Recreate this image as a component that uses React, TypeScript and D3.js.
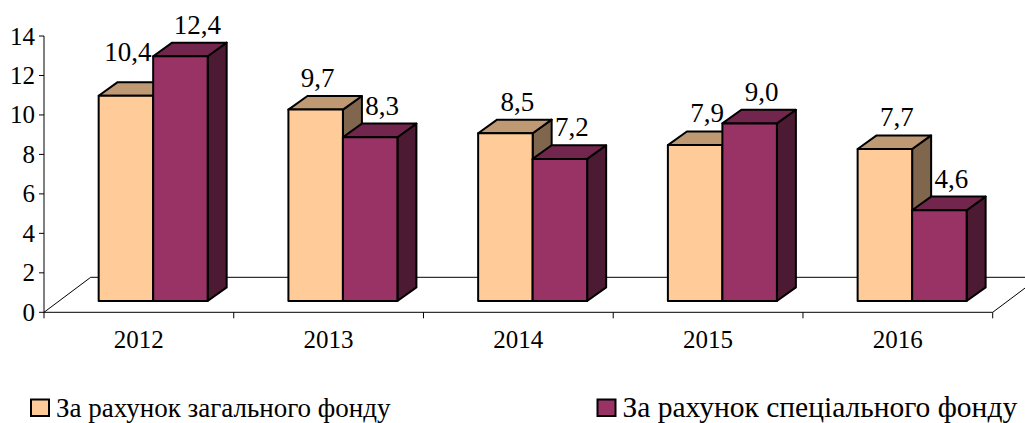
import React from 'react';
import * as d3 from 'd3';

const categories = ['2012', '2013', '2014', '2015', '2016'];
const generalFund = [10.4, 9.7, 8.5, 7.9, 7.7];
const specialFund = [12.4, 8.3, 7.2, 9.0, 4.6];
const seriesNames = ['За рахунок загального фонду', 'За рахунок спеціального фонду'];
const yTicks = [0, 2, 4, 6, 8, 10, 12, 14];

const W = 1025;
const H = 423;
const FONT = 'Liberation Serif';

// series styles: front, top, side
const colors = [
  { front: '#FFCC99', top: '#BF9973', side: '#80664D' },
  { front: '#993366', top: '#73264D', side: '#4D1A33' },
];

// layout
const plotLeft = 44;
const plotRight = 992.7;
const yBase = 312.3;
const yTopPx = 36;
const floorDx = 46.7;
const floorDy = -35;
const barOffX = 14.3;
const barOffY = -11.3;
const barDepthX = 19;
const barDepthY = -13.6;
const barW = 54.5;

// manual label nudges (series-category)
const labelNudge: Record<string, [number, number]> = {
  '0-0': [-10, -12],
  '0-1': [-10, 0],
  '1-0': [5, 0],
};

const legendLayout = [
  { x: 31, size: 27 },
  { x: 597.5, size: 29.5 },
];

const fmt = (v: number) => d3.format('.1f')(v).replace('.', ',');

export default function App() {
  const x = d3.scaleBand<string>().domain(categories).range([plotLeft, plotRight]).padding(0);
  const y = d3.scaleLinear().domain([0, 14]).range([yBase, yTopPx]);
  const series = [generalFund, specialFund];

  const floorPts = [
    [plotLeft, yBase],
    [plotRight, yBase],
    [plotRight + floorDx, yBase + floorDy],
    [plotLeft + floorDx, yBase + floorDy],
  ];

  const bars: React.ReactNode[] = [];
  const labels: React.ReactNode[] = [];
  categories.forEach((c, ci) => {
    const cx = (x(c) as number) + x.bandwidth() / 2 + barOffX;
    series.forEach((vals, si) => {
      const v = vals[ci];
      const x0 = cx - barW + si * barW;
      const x1 = x0 + barW;
      const yb = yBase + barOffY;
      const yt = y(v) + barOffY;
      const col = colors[si];
      const top = `M${x0},${yt}L${x1},${yt}L${x1 + barDepthX},${yt + barDepthY}L${x0 + barDepthX},${yt + barDepthY}Z`;
      const side = `M${x1},${yt}L${x1 + barDepthX},${yt + barDepthY}L${x1 + barDepthX},${yb + barDepthY}L${x1},${yb}Z`;
      bars.push(
        <g key={`b${ci}-${si}`} stroke="#000" strokeWidth={2} strokeLinejoin="round">
          <path d={side} fill={col.side} />
          <path d={top} fill={col.top} />
          <rect x={x0} y={yt} width={barW} height={yb - yt} fill={col.front} />
        </g>
      );
      const nudge = labelNudge[`${si}-${ci}`] || [0, 0];
      labels.push(
        <text
          key={`l${ci}-${si}`}
          x={(x0 + x1) / 2 + 12 + nudge[0]}
          y={yt + barDepthY - 9 + nudge[1]}
          textAnchor="middle"
          style={{ fontFamily: FONT, fontSize: 27 }}
          fill="#000"
        >
          {fmt(v)}
        </text>
      );
    });
  });

  const xTickPos = [...categories.map((c) => x(c) as number), plotRight];

  return (
    <div>
      <svg width={W} height={H} style={{ position: 'absolute', left: 0, top: 0, background: '#fff' }}>
        <polygon points={floorPts.map((p) => p.join(',')).join(' ')} fill="none" stroke="#000" strokeWidth={1} />
        {bars}
        {labels}
        {/* y axis */}
        <line x1={plotLeft} x2={plotLeft} y1={yTopPx} y2={yBase} stroke="#000" strokeWidth={1} />
        {yTicks.map((t) => (
          <g key={`yt${t}`}>
            <line x1={plotLeft - 5} x2={plotLeft} y1={y(t)} y2={y(t)} stroke="#000" strokeWidth={1} />
            <text x={35} y={y(t) + 8.5} textAnchor="end" style={{ fontFamily: FONT, fontSize: 25 }} fill="#000">
              {t}
            </text>
          </g>
        ))}
        {/* x axis ticks */}
        {xTickPos.map((p, i) => (
          <line key={`xt${i}`} x1={p} x2={p} y1={yBase} y2={yBase + 6} stroke="#000" strokeWidth={1} />
        ))}
        {categories.map((c) => (
          <text
            key={`xl${c}`}
            x={(x(c) as number) + x.bandwidth() / 2}
            y={348.3}
            textAnchor="middle"
            style={{ fontFamily: FONT, fontSize: 25 }}
            fill="#000"
          >
            {c}
          </text>
        ))}
        {/* legend */}
        {seriesNames.map((n, i) => {
          const { x: bx, size } = legendLayout[i];
          return (
            <g key={`lg${i}`}>
              <rect x={bx} y={399.5} width={18} height={16.5} fill={colors[i].front} stroke="#000" strokeWidth={2} />
              <text x={bx + 25} y={417} style={{ fontFamily: FONT, fontSize: size }} fill="#000">
                {n}
              </text>
            </g>
          );
        })}
      </svg>
    </div>
  );
}
